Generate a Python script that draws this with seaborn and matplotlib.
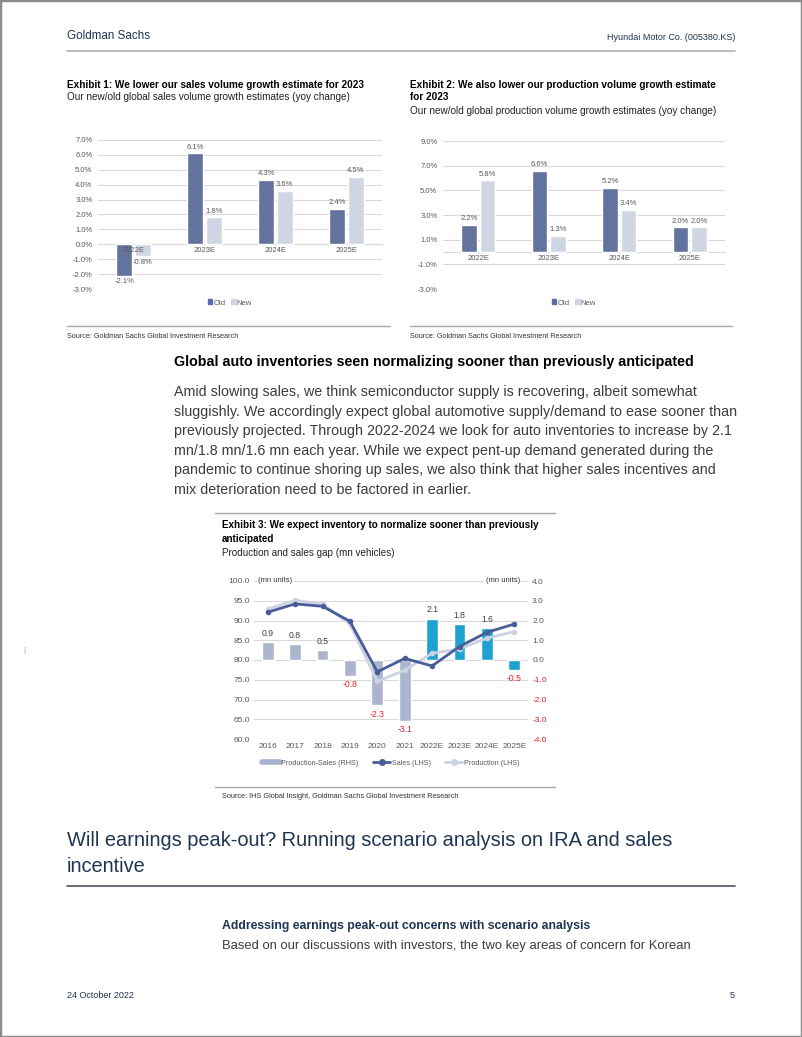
import numpy as np
import pandas as pd
import matplotlib
matplotlib.use('Agg')
import matplotlib.pyplot as plt
import seaborn as sns
from matplotlib.lines import Line2D
from matplotlib.patches import Patch, Rectangle

# ---- data ----
ex1_years = ['2022E', '2023E', '2024E', '2025E']
ex1_old = [-2.1, 6.1, 4.3, 2.4]
ex1_new = [-0.8, 1.8, 3.6, 4.5]

ex2_years = ['2022E', '2023E', '2024E', '2025E']
ex2_old = [2.2, 6.6, 5.2, 2.0]
ex2_new = [5.8, 1.3, 3.4, 2.0]

ex3_years = ['2016', '2017', '2018', '2019', '2020', '2021', '2022E', '2023E', '2024E', '2025E']
ex3_gap = [0.9, 0.8, 0.5, -0.8, -2.3, -3.1, 2.1, 1.8, 1.6, -0.5]
ex3_sales = [92.1, 94.2, 93.6, 89.8, 77.0, 80.4, 78.5, 83.4, 87.0, 89.1]
ex3_production = [92.9, 95.1, 94.2, 89.1, 74.6, 77.4, 81.7, 82.8, 85.5, 87.2]

sns.set_theme(style='white')
plt.rcParams['font.family'] = ['Liberation Sans', 'DejaVu Sans']

W, H = 802, 1037
fig = plt.figure(figsize=(W / 100, H / 100), dpi=100)
fig.patch.set_facecolor('white')

NAVY = '#1f3552'
OLD = '#5a6ea8'
NEW = '#cdd4e6'
GRID = '#d9d9d9'
TICK = '#595959'


def ptext(x, y, s, size, weight='normal', color='#222222', ha='left'):
    fig.text(x / W, 1 - y / H, s, fontsize=size, fontweight=weight, color=color,
             ha=ha, va='center')


def hline(x0, x1, y, color='#a6a6a6', lw=1.0):
    fig.add_artist(Line2D([x0 / W, x1 / W], [1 - y / H, 1 - y / H], color=color, lw=lw,
                          transform=fig.transFigure))


def add_ax(l, t, r, b):
    return fig.add_axes([l / W, 1 - b / H, (r - l) / W, (b - t) / H])


# page frame
fig.add_artist(Rectangle((0, 0), 1, 1, transform=fig.transFigure, fill=False,
                         edgecolor='#8c8c8c', lw=2.5))

# header
ptext(67, 36, 'Goldman Sachs', 8.4, color=NAVY)
ptext(735, 37, 'Hyundai Motor Co. (005380.KS)', 6.5, color=NAVY, ha='right')
hline(67, 735, 51, color='#b0b0b0', lw=1.2)


def growth_chart(ax, years, old, new, ylim, yticks):
    df = pd.DataFrame({'year': years * 2, 'value': old + new,
                       'series': ['Old'] * len(years) + ['New'] * len(years)})
    sns.barplot(data=df, x='year', y='value', hue='series', palette={'Old': OLD, 'New': NEW},
                width=0.52, gap=0.15, ax=ax, legend=False, zorder=2)
    for cont in ax.containers:
        ax.bar_label(cont, fmt='%.1f%%', padding=2, fontsize=5.5, color=TICK)
    ax.set_ylim(*ylim)
    ax.set_yticks(yticks)
    ax.set_yticklabels(['%.1f%%' % v for v in yticks])
    ax.yaxis.grid(True, color=GRID, lw=0.8)
    ax.set_axisbelow(True)
    for s in ['top', 'right', 'left']:
        ax.spines[s].set_visible(False)
    ax.spines['bottom'].set_position(('data', 0))
    ax.spines['bottom'].set_color(GRID)
    ax.spines['bottom'].set_linewidth(0.8)
    ax.spines['bottom'].set_zorder(1)
    ax.xaxis.set_zorder(3)
    ax.tick_params(axis='both', length=0, labelsize=5.5, labelcolor=TICK)
    ax.tick_params(axis='y', pad=4)
    ax.tick_params(axis='x', pad=2)
    ax.set_xlabel('')
    ax.set_ylabel('')


# Exhibit 1
ptext(67, 85, 'Exhibit 1: We lower our sales volume growth estimate for 2023', 7.2, weight='bold', color='black')
ptext(67, 97, 'Our new/old global sales volume growth estimates (yoy change)', 7.2)
ax1 = add_ax(98, 140, 382, 289)
growth_chart(ax1, ex1_years, ex1_old, ex1_new, (-3, 7), list(range(-3, 8)))
leg_h = [Patch(color=OLD), Patch(color=NEW)]
fig.legend(leg_h, ['Old', 'New'], loc='center', bbox_to_anchor=(230 / W, 1 - 303 / H), ncol=2,
           frameon=False, fontsize=5.5, handlelength=0.6, handleheight=0.6, handletextpad=0.1,
           columnspacing=0.8, labelcolor=TICK)
hline(67, 390, 326)
ptext(67, 337, 'Source: Goldman Sachs Global Investment Research', 5.2, color='#333333')

# Exhibit 2
ptext(410, 85, 'Exhibit 2: We also lower our production volume growth estimate', 7.2, weight='bold', color='black')
ptext(410, 97, 'for 2023', 7.2, weight='bold', color='black')
ptext(410, 111, 'Our new/old global production volume growth estimates (yoy change)', 7.2)
ax2 = add_ax(443, 141, 725, 289)
growth_chart(ax2, ex2_years, ex2_old, ex2_new, (-3, 9), list(range(-3, 10, 2)))
fig.legend(leg_h, ['Old', 'New'], loc='center', bbox_to_anchor=(574 / W, 1 - 303 / H), ncol=2,
           frameon=False, fontsize=5.5, handlelength=0.6, handleheight=0.6, handletextpad=0.1,
           columnspacing=0.8, labelcolor=TICK)
hline(410, 732, 326)
ptext(410, 337, 'Source: Goldman Sachs Global Investment Research', 5.2, color='#333333')

# section text
ptext(174, 362, 'Global auto inventories seen normalizing sooner than previously anticipated', 10.3,
      weight='bold', color='black')
para = [
    'Amid slowing sales, we think semiconductor supply is recovering, albeit somewhat',
    'sluggishly. We accordingly expect global automotive supply/demand to ease sooner than',
    'previously projected. Through 2022-2024 we look for auto inventories to increase by 2.1',
    'mn/1.8 mn/1.6 mn each year. While we expect pent-up demand generated during the',
    'pandemic to continue shoring up sales, we also think that higher sales incentives and',
    'mix deterioration need to be factored in earlier.',
]
for i, line in enumerate(para):
    ptext(174, 392 + 19.6 * i, line, 10.3, color='#3c3c3c')

# Exhibit 3
hline(215, 555, 513)
ptext(222, 525, 'Exhibit 3: We expect inventory to normalize sooner than previously', 7.1, weight='bold', color='black')
ptext(222, 539, 'anticipated', 7.1, weight='bold', color='black')
ptext(222, 553, 'Production and sales gap (mn vehicles)', 7.1)

HIST = '#a7b2d3'
FCST = '#00b0f0'
SALES = '#4a5c98'
PROD = '#cbd2e2'
RED = '#e8202a'

ax3 = add_ax(254, 581, 528, 739)
ax3r = ax3.twinx()
bar_cols = [HIST if not y.endswith('E') else FCST for y in ex3_years]
sns.barplot(x=ex3_years, y=ex3_gap, hue=ex3_years, palette=bar_cols, width=0.43,
            legend=False, ax=ax3r, zorder=3)
for cont in ax3r.containers:
    txts = ax3r.bar_label(cont, fmt='%.1f', padding=3, fontsize=6.2)
    for t, v in zip(txts, cont.datavalues):
        t.set_color(RED if v < 0 else '#404040')
rticks = np.arange(-4, 4.1, 1)
ax3r.set_ylim(-4, 4)
ax3r.set_yticks(rticks)
ax3r.set_yticklabels(['%.1f' % v for v in rticks])
for t, v in zip(ax3r.get_yticklabels(), rticks):
    t.set_color(RED if v < 0 else TICK)
ax3r.yaxis.grid(True, color=GRID, lw=0.8)
ax3r.set_axisbelow(True)

xpos = np.arange(len(ex3_years))
sns.lineplot(x=xpos, y=ex3_production, ax=ax3, color=PROD, lw=2, marker='o', markersize=4,
             markeredgewidth=0, sort=False, zorder=4)
sns.lineplot(x=xpos, y=ex3_sales, ax=ax3, color=SALES, lw=2, marker='o', markersize=4,
             markeredgewidth=0, sort=False, zorder=5)
ax3.set_zorder(ax3r.get_zorder() + 1)
ax3.patch.set_visible(False)
lticks = np.arange(60, 101, 5)
ax3.set_ylim(60, 100)
ax3.set_yticks(lticks)
ax3.set_yticklabels(['%.1f' % v for v in lticks])
ax3.set_xlim(-0.5, len(ex3_years) - 0.5)
ax3.set_xticks(xpos)
ax3.set_xticklabels(ex3_years)
for a in (ax3, ax3r):
    for s in a.spines.values():
        s.set_visible(False)
    a.tick_params(axis='both', length=0, labelsize=6, pad=3)
    a.set_xlabel('')
    a.set_ylabel('')
ax3.tick_params(axis='both', labelcolor=TICK)
ax3.text(0.015, 1.0, '(mn units)', transform=ax3.transAxes, ha='left', va='center', fontsize=5.5,
         color='#333333', bbox=dict(facecolor='white', edgecolor='none', pad=1))
ax3.text(0.97, 1.0, '(mn units)', transform=ax3.transAxes, ha='right', va='center', fontsize=5.5,
         color='#333333', bbox=dict(facecolor='white', edgecolor='none', pad=1))

h3 = [Line2D([0], [0], color=HIST, lw=4),
      Line2D([0], [0], color=SALES, lw=2, marker='o', markersize=4),
      Line2D([0], [0], color=PROD, lw=2, marker='o', markersize=4)]
fig.legend(h3, ['Production-Sales (RHS)', 'Sales (LHS)', 'Production (LHS)'], loc='center',
           bbox_to_anchor=(391 / W, 1 - 763 / H), ncol=3, frameon=False, fontsize=5.2,
           handlelength=2.4, handletextpad=0.2, columnspacing=2.0, labelcolor=TICK)
hline(215, 555, 787)
ptext(222, 797, 'Source: IHS Global Insight, Goldman Sachs Global Investment Research', 5.3, color='#333333')

# lower section
ptext(67, 840, 'Will earnings peak-out? Running scenario analysis on IRA and sales', 14.4, color=NAVY)
ptext(67, 867, 'incentive', 14.4, color=NAVY)
hline(67, 735, 886, color='#4a5560', lw=1.2)
ptext(222, 926, 'Addressing earnings peak-out concerns with scenario analysis', 8.8, weight='bold', color=NAVY)
ptext(222, 946, 'Based on our discussions with investors, the two key areas of concern for Korean', 9.35,
      color='#3c3c3c')
ptext(23, 650, '|', 6, color='#999999')

ptext(67, 996, '24 October 2022', 6.5, color=NAVY)
ptext(735, 996, '5', 6.5, color=NAVY, ha='right')

fig.savefig('out.png', dpi=100)
